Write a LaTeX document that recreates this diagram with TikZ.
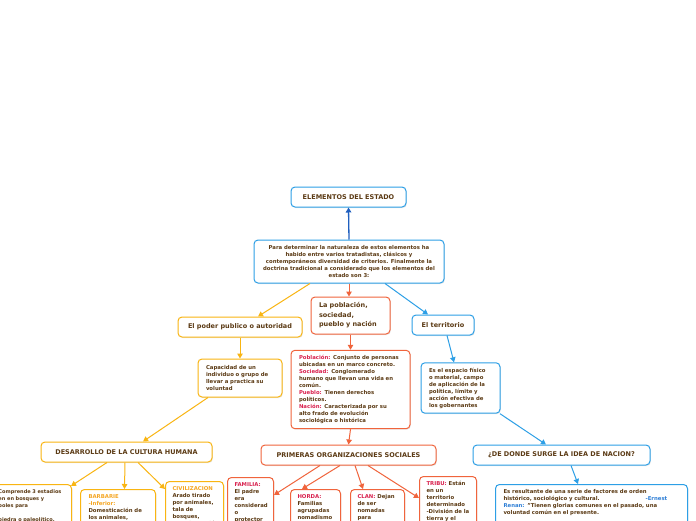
\documentclass[tikz,border=0pt]{standalone}
\usepackage{fontspec}
\setmainfont{DejaVu Sans}
\usetikzlibrary{arrows.meta,shadows,calc}
\definecolor{cblue}{HTML}{2D9FE6}
\definecolor{dblue}{HTML}{1F5FBF}
\definecolor{corange}{HTML}{F9B512}
\definecolor{cred}{HTML}{F0643C}
\definecolor{txt}{HTML}{5B3A14}
\definecolor{labred}{HTML}{D9214E}
\definecolor{laborange}{HTML}{F5A623}
\definecolor{labblue}{HTML}{2F7FD6}
\newcommand{\lr}[1]{\textcolor{labred}{#1}}
\newcommand{\lo}[1]{\textcolor{laborange}{#1}}
\newcommand{\lb}[1]{\textcolor{labblue}{#1}}
\begin{document}
\begin{tikzpicture}[x=1pt,y=-1pt,
  box/.style={draw, rounded corners=4pt, line width=1pt, fill=white, text=txt,
    font=\bfseries\fontsize{5.35}{7}\selectfont, inner xsep=8pt, inner ysep=5pt,
    drop shadow={opacity=0.18, shadow xshift=0.8pt, shadow yshift=-1pt}},
  bbox/.style={box, draw=cblue},
  obox/.style={box, draw=corange},
  rbox/.style={box, draw=cred},
  ttl/.style={font=\bfseries\fontsize{6.5}{8}\selectfont},
  arr/.style={-{Triangle[width=5.5pt,length=5pt]}, line width=1pt},
]
\clip (0,0) rectangle (696,520);
\fill[white] (0,0) rectangle (696,520);

% top level
\node[bbox,ttl,minimum width=115pt,minimum height=20pt] (E) at (348.5,197) {ELEMENTOS DEL ESTADO};
\node[bbox,minimum width=190pt,minimum height=43pt,align=center] (P) at (349,261.5)
  {Para determinar la naturaleza de estos elementos ha\\habido entre varios tratadistas, clásicos y\\contemporáneos diversidad de criterios. Finalmente la\\doctrina tradicional a considerado que los elementos del\\estado son 3:};

% three elements
\node[obox,ttl,minimum width=124pt,minimum height=20pt] (poder) at (240,327) {El poder publico o autoridad};
\node[rbox,font=\bfseries\fontsize{6.5}{9.5}\selectfont,text width=63pt,minimum height=37pt,align=left] (pob) at (350.5,315.5)
  {La población,\\sociedad,\\pueblo y nación};
\node[bbox,ttl,minimum width=62pt,minimum height=20pt] (terr) at (443,325) {El territorio};

% descriptions
\node[obox,text width=68pt,minimum height=38pt,align=left] (cap) at (240,378)
  {Capacidad de un\\individuo o grupo de\\llevar a practica su\\voluntad};
\node[rbox,text width=103pt,minimum height=77pt,align=left] (pob2) at (350.5,389.5)
  {\lr{Población:} Conjunto de personas\\ubicadas en un marco concreto.\\\lr{Sociedad:} Conglomerado\\humano que llevan una vida en\\común.\\\lr{Pueblo:} Tienen derechos\\políticos.\\\lr{Nación:} Caracterizada por su\\alto frado de evolución\\sociológica o histórica};
\node[bbox,text width=63pt,minimum height=50pt,align=left] (esp) at (460.5,388)
  {Es el espacio físico\\o material, campo\\de aplicación de la\\política, límite y\\acción efectiva de\\los gobernantes};

% second level titles
\node[obox,ttl,minimum width=171pt,minimum height=20pt] (des) at (126.5,452) {DESARROLLO DE LA CULTURA HUMANA};
\node[rbox,ttl,minimum width=175pt,minimum height=20pt] (prim) at (348.5,455) {PRIMERAS ORGANIZACIONES SOCIALES};
\node[bbox,ttl,minimum width=177pt,minimum height=20pt] (donde) at (561.5,455) {¿DE DONDE SURGE LA IDEA DE NACION?};

% bottom boxes (cut by the frame)
\node[obox,anchor=north west,text width=78pt,align=left,inner xsep=8pt,font=\bfseries\fontsize{5}{7}\selectfont] (salv) at (-23,484)
  {\mbox{\hspace*{13pt}Comprende 3 estadios}\\\mbox{\hspace*{13pt}en en bosques y}\\\mbox{\hspace*{13pt}boles para}\\[7pt]\mbox{\hspace*{13pt}piedra o paleolítico,}\\\rule{0pt}{20pt}};
\node[obox,anchor=north west,text width=59pt,align=left] (barb) at (80,489)
  {\lo{BARBARIE}\\\lo{-Inferior:}\\Domesticación de\\los animales,\\\rule{0pt}{20pt}};
\node[obox,anchor=north west,text width=44pt,align=left,inner xsep=7pt] (civ) at (165,481)
  {\lo{CIVILIZACION}\\Arado tirado\\por animales,\\tala de\\bosques,\\transformació\\\rule{0pt}{10pt}};
\node[rbox,anchor=north west,text width=32pt,align=left,inner xsep=7pt] (fam) at (227,477)
  {\lr{FAMILIA:}\\El padre\\era\\considerad\\o\\protector\\\rule{0pt}{10pt}};
\node[rbox,anchor=north west,text width=36pt,align=left,inner xsep=7pt] (horda) at (290,489)
  {\lr{HORDA:}\\Familias\\agrupadas\\nomadismo\\\rule{0pt}{20pt}};
\node[rbox,anchor=north west,text width=40pt,align=left,inner xsep=7pt] (clan) at (350,489)
  {\lr{CLAN:} Dejan\\de ser\\nomadas\\para\\\rule{0pt}{20pt}};
\node[rbox,anchor=north west,text width=43pt,align=left,inner xsep=7pt] (tribu) at (419,476)
  {\lr{TRIBU:} Están\\en un\\territorio\\determinado\\-División de la\\tierra y el\\trabajo\\\rule{0pt}{10pt}};
\node[bbox,anchor=north west,text width=176pt,align=left] (es) at (495,484)
  {Es resultante de una serie de factores de orden\\histórico, sociológico y cultural.\hspace{46pt}\lb{-Ernest}\\\lb{Renan:} "Tienen glorias comunes en el pasado, una\\voluntad común en el presente.\\\rule{0pt}{20pt}};

% connectors
\draw[arr,dblue,line width=1.3pt] (P.north) -- (E.south);
\draw[arr,corange] ([xshift=-39pt]P.south) -- ([xshift=18pt]poder.north);
\draw[arr,cred] (P.south) -- (P.south |- pob.north);
\draw[arr,cblue] ([xshift=36pt]P.south) -- ([xshift=-15pt]terr.north);
\draw[arr,corange] (poder.south) -- (cap.north);
\draw[arr,cred] (pob.south) -- (pob2.north);
\draw[arr,cblue] ([xshift=4pt]terr.south) -- ([xshift=-6.5pt]esp.north);
\draw[arr,corange] ([xshift=-32pt]cap.south) -- ([xshift=16.5pt]des.north);
\draw[arr,cred] (pob2.south) -- (prim.north);
\draw[arr,cblue] ([xshift=39.5pt]esp.south) -- ([xshift=-15.5pt]donde.north);

\draw[arr,corange] ([xshift=-19.5pt]des.south) -- ([xshift=-1pt,yshift=-2pt]salv.north east);
\draw[arr,corange] ([xshift=-1.5pt]des.south) -- ([xshift=-2pt]des.south |- barb.north);
\draw[arr,corange] ([xshift=11.5pt]des.south) -- ([yshift=-8pt]civ.north west);
\draw[arr,cred] ([xshift=-28.5pt]prim.south) -- ([yshift=-18pt]fam.north east);
\draw[arr,cred] ([xshift=-8.5pt]prim.south) -- ([xshift=12pt]horda.north west);
\draw[arr,cred] ([xshift=6.5pt]prim.south) -- ([xshift=13pt]clan.north west);
\draw[arr,cred] ([xshift=19.5pt]prim.south) -- ([yshift=-22pt]tribu.north west);
\draw[arr,cblue] ([xshift=9.5pt]donde.south) -- ([xshift=83pt]es.north west);
\end{tikzpicture}
\end{document}
